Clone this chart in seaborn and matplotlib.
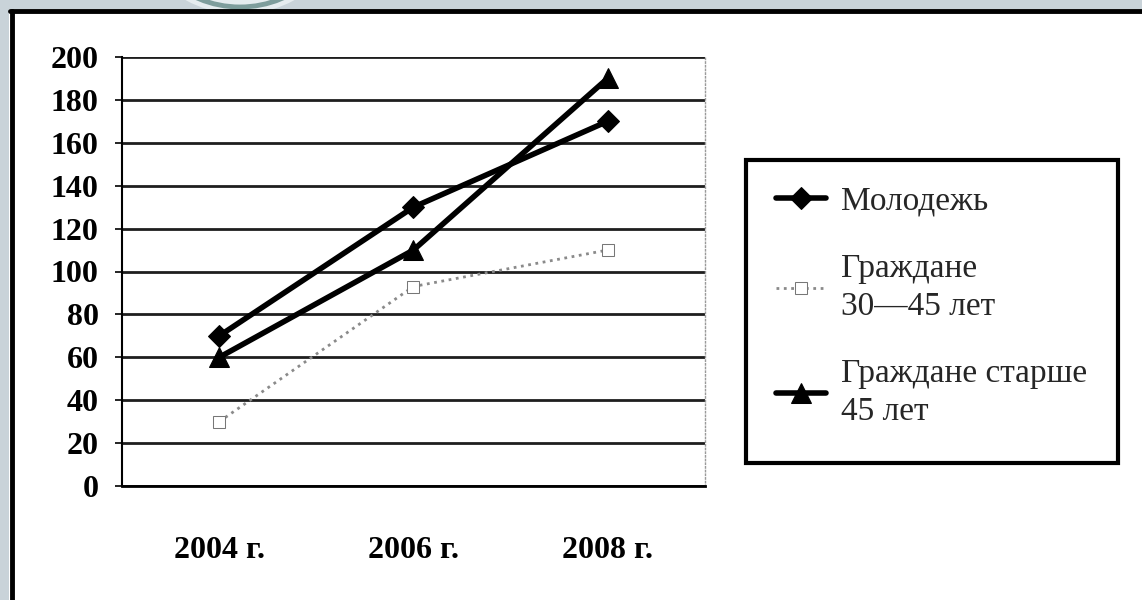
import matplotlib
matplotlib.use("Agg")
import matplotlib.pyplot as plt
import matplotlib.patches as mpatches
import matplotlib.lines as mlines
from matplotlib.transforms import IdentityTransform
import pandas as pd
import seaborn as sns

# -----------------------------
# Data
# -----------------------------
years = ["2004 г.", "2006 г.", "2008 г."]
youth = [70, 130, 170]
mid_age = [30, 93, 110]
older = [60, 110, 190]
series_names = ["Молодежь", "Граждане\n30—45 лет", "Граждане старше\n45 лет"]
y_ticks = list(range(0, 201, 20))

df = pd.DataFrame({
    "year": years * 3,
    "value": youth + mid_age + older,
    "group": [series_names[0]] * 3 + [series_names[1]] * 3 + [series_names[2]] * 3,
})

sns.set_theme(style="white")
plt.rcParams["font.family"] = ["Liberation Serif", "DejaVu Serif"]

fig = plt.figure(figsize=(11.42, 6), dpi=100)
fig.patch.set_facecolor("white")

# -----------------------------
# Slide frame decoration (top and left only)
# -----------------------------
band = "#c9d3d9"
fig.patches.append(mpatches.Rectangle((0, 0.985), 1, 0.015, transform=fig.transFigure,
                                      facecolor=band, edgecolor="none", zorder=0))
fig.patches.append(mpatches.Rectangle((0, 0), 0.008, 1, transform=fig.transFigure,
                                      facecolor=band, edgecolor="none", zorder=0))
top_clip = mpatches.Rectangle((12, 590), 1130, 10, transform=IdentityTransform())
disk = mpatches.Circle((240, 700), 114, transform=IdentityTransform(),
                       facecolor="#e6ecef", edgecolor="none", zorder=1)
ring = mpatches.Circle((240, 700), 107, transform=IdentityTransform(),
                       facecolor="none", edgecolor="#7e9d9c", linewidth=3.5, zorder=2)
for p in (disk, ring):
    p.set_clip_path(top_clip)
    fig.patches.append(p)
fig.lines.append(mlines.Line2D([0.0085, 1], [0.9815, 0.9815], transform=fig.transFigure,
                               color="black", linewidth=3.5, zorder=3))
fig.lines.append(mlines.Line2D([0.0105, 0.0105], [0, 0.982], transform=fig.transFigure,
                               color="black", linewidth=3.5, zorder=3))

# -----------------------------
# Chart
# -----------------------------
ax = fig.add_axes([0.107, 0.19, 0.51, 0.715])

sub = df[df["group"] == series_names[0]]
sns.lineplot(data=sub, x="year", y="value", ax=ax, sort=False, color="black",
             linewidth=4, marker="D", markersize=11, markeredgecolor="black", zorder=4)
sub = df[df["group"] == series_names[1]]
sns.lineplot(data=sub, x="year", y="value", ax=ax, sort=False, color="#8a8a8a",
             linewidth=2, linestyle=":", marker="s", markersize=9,
             markerfacecolor="white", markeredgecolor="#777777", zorder=3)
sub = df[df["group"] == series_names[2]]
sns.lineplot(data=sub, x="year", y="value", ax=ax, sort=False, color="black",
             linewidth=4, marker="^", markersize=14, markeredgecolor="black", zorder=4)

ax.set_xlim(-0.5, 2.5)
ax.set_ylim(0, 200)
ax.set_yticks(y_ticks)
ax.set_yticklabels([str(v) for v in y_ticks])
ax.set_xlabel("")
ax.set_ylabel("")
ax.grid(axis="y", color="#1e1e1e", linewidth=2)
ax.set_axisbelow(True)
ax.spines["top"].set_visible(False)
ax.spines["left"].set_color("black")
ax.spines["left"].set_linewidth(1.5)
ax.spines["bottom"].set_color("black")
ax.spines["bottom"].set_linewidth(2)
ax.spines["right"].set_color("#9a9a9a")
ax.spines["right"].set_linewidth(1)
ax.spines["right"].set_linestyle(":")
ax.tick_params(axis="y", left=True, length=5, width=1.2, color="black",
               pad=12, labelsize=23, labelcolor="black")
ax.tick_params(axis="x", bottom=False, pad=30, labelsize=23, labelcolor="black")
for lbl in ax.get_xticklabels() + ax.get_yticklabels():
    lbl.set_fontweight("bold")
if ax.get_legend() is not None:
    ax.get_legend().remove()

# -----------------------------
# Legend
# -----------------------------
fig.patches.append(mpatches.Rectangle((0.653, 0.228), 0.326, 0.505, transform=fig.transFigure,
                                      facecolor="white", edgecolor="black", linewidth=3, zorder=5))
handles = ax.get_lines()[:3]
leg = fig.legend(handles, series_names, loc="upper left", bbox_to_anchor=(0.668, 0.712),
                 frameon=False, fontsize=24, handlelength=1.5, handletextpad=0.45,
                 labelspacing=1.1, borderaxespad=0)
for t in leg.get_texts():
    t.set_linespacing(1.33)
leg.set_zorder(6)

fig.savefig("out.png", dpi=100)
